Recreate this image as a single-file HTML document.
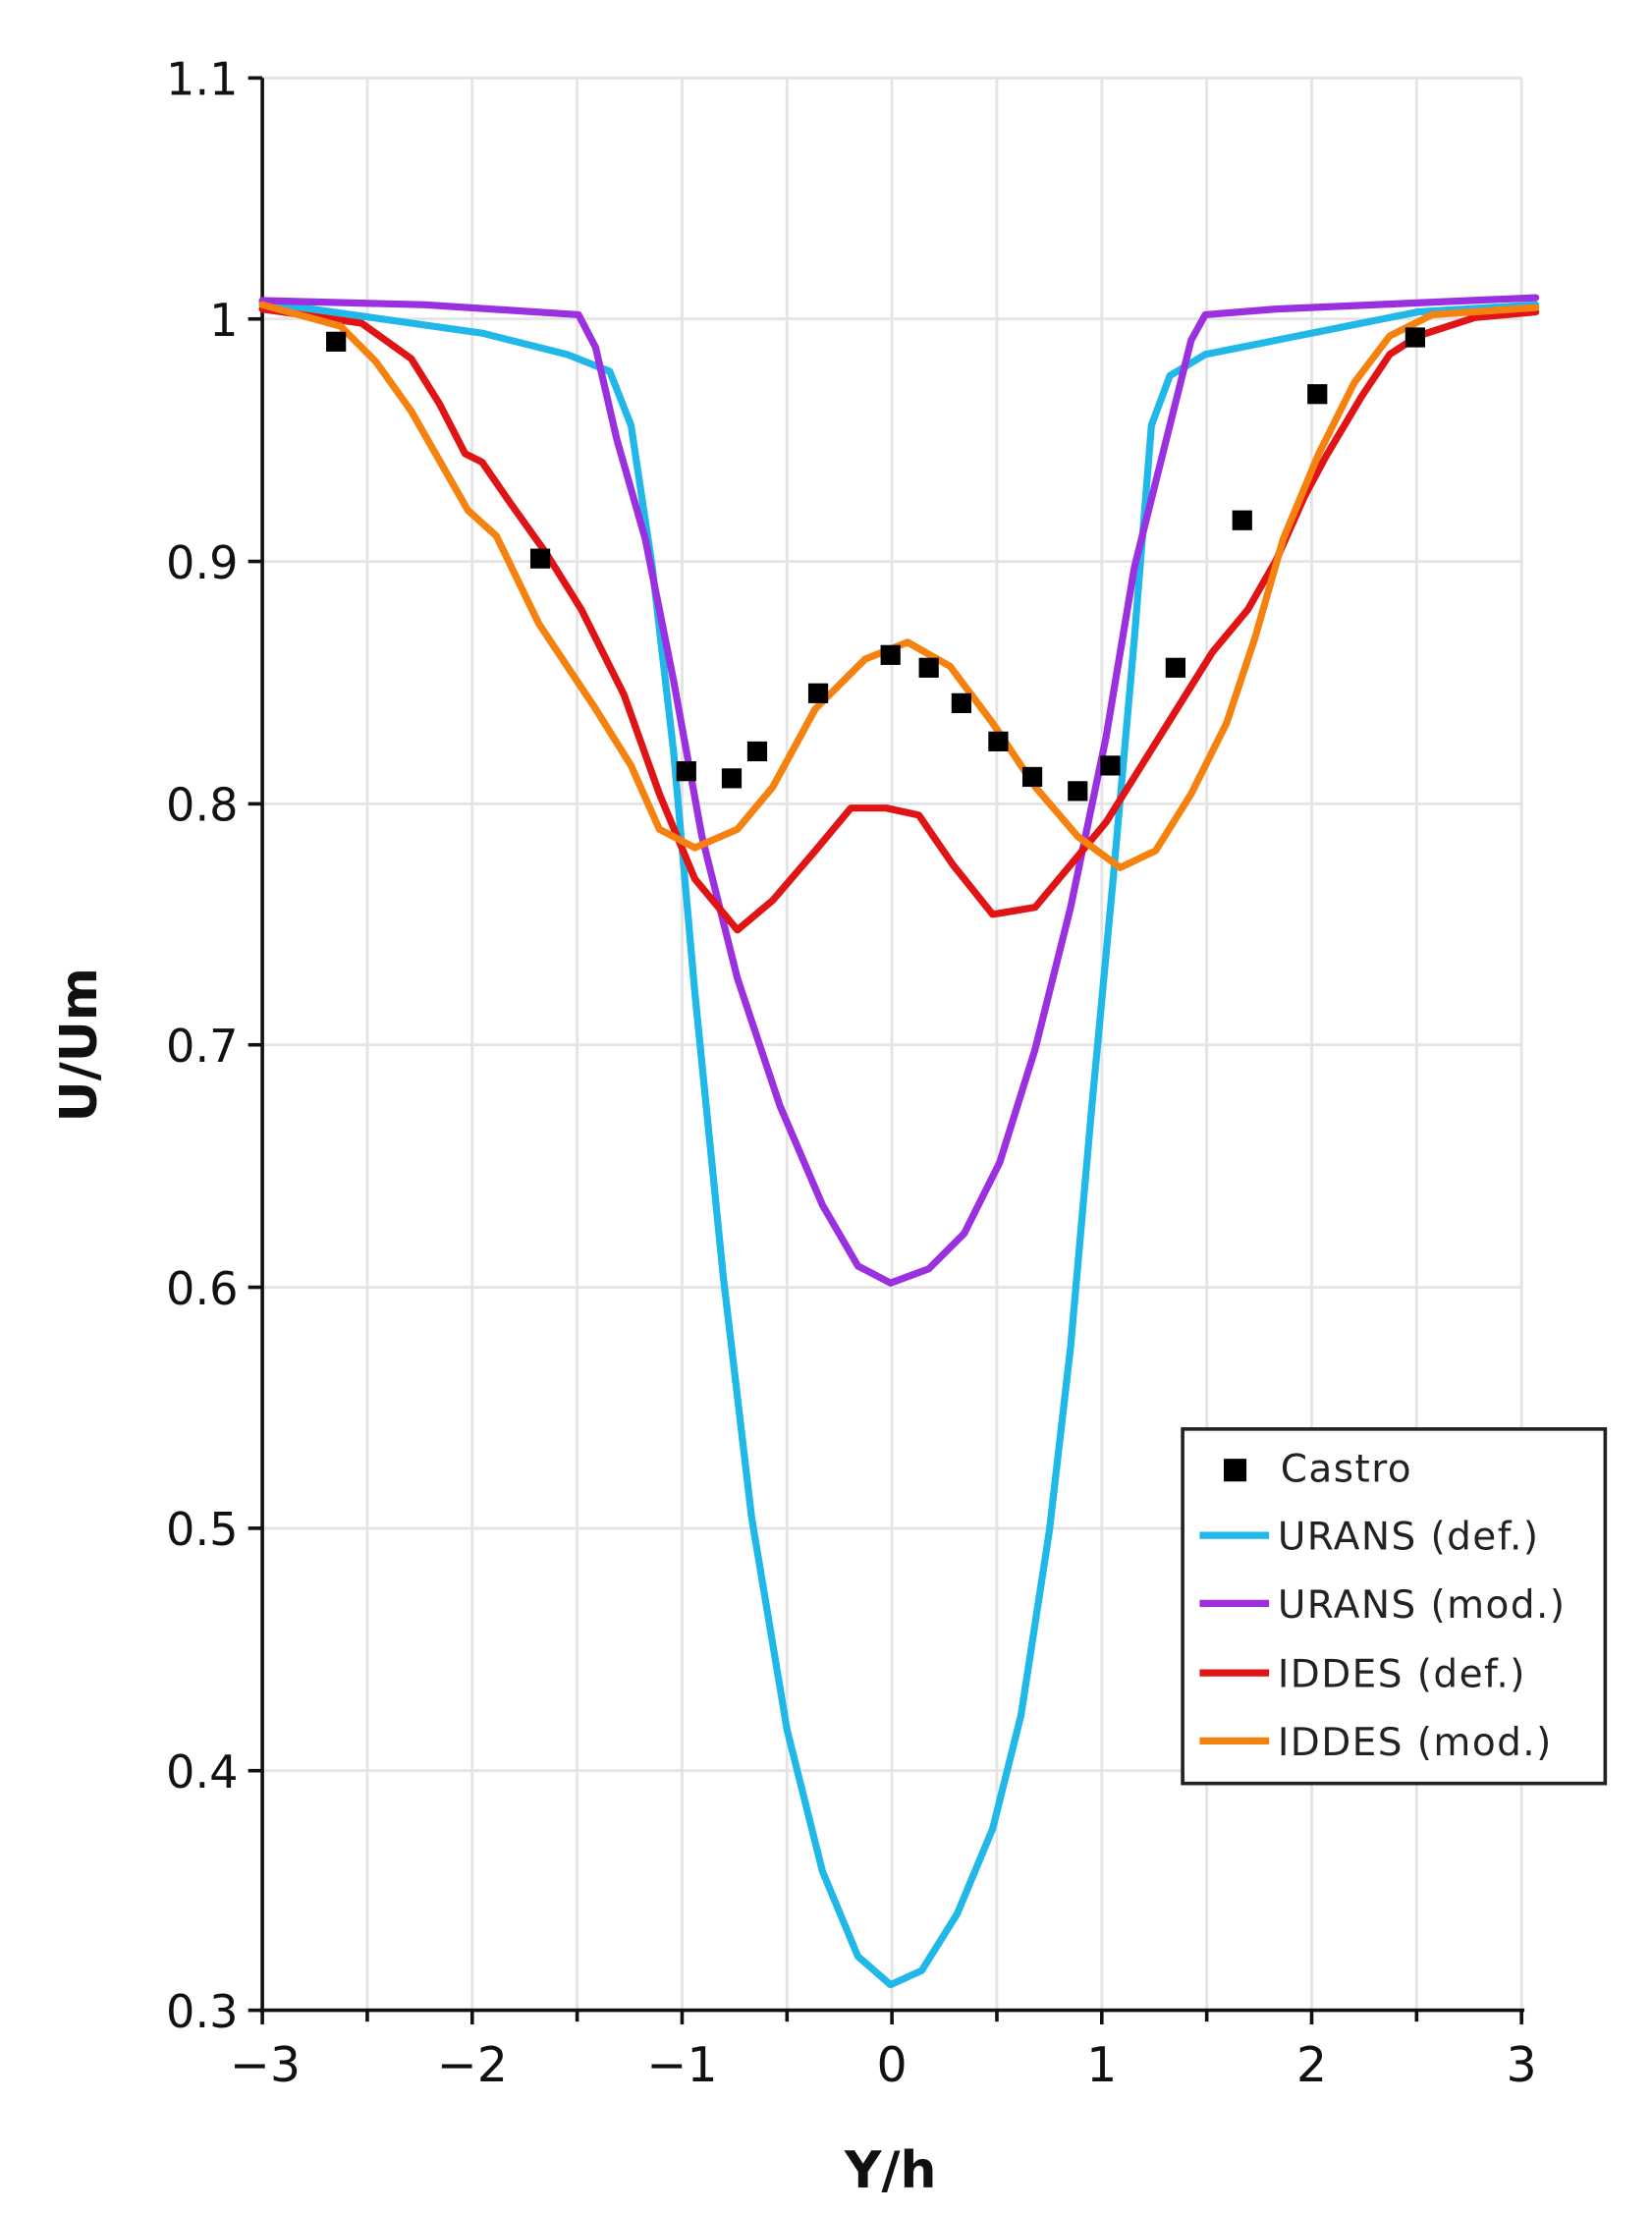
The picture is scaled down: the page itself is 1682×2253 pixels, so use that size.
<!DOCTYPE html>
<html><head><meta charset="utf-8"><style>html,body{margin:0;padding:0;background:#fff}svg{display:block}</style></head>
<body>
<svg width="1682" height="2253" viewBox="0 0 1165 1561" preserveAspectRatio="none" xmlns="http://www.w3.org/2000/svg" font-family="'DejaVu Sans','Liberation Sans',sans-serif">
<rect width="1165" height="1561" fill="#fff"/>
<g stroke="#e4e4e4" stroke-width="2">
<line x1="259" y1="55" x2="259" y2="1418"/><line x1="333" y1="55" x2="333" y2="1418"/><line x1="407" y1="55" x2="407" y2="1418"/><line x1="481" y1="55" x2="481" y2="1418"/><line x1="555" y1="55" x2="555" y2="1418"/><line x1="629" y1="55" x2="629" y2="1418"/><line x1="703" y1="55" x2="703" y2="1418"/><line x1="777" y1="55" x2="777" y2="1418"/><line x1="851" y1="55" x2="851" y2="1418"/><line x1="925" y1="55" x2="925" y2="1418"/><line x1="999" y1="55" x2="999" y2="1418"/><line x1="1073" y1="55" x2="1073" y2="1418"/>
<line x1="185" y1="55" x2="1073" y2="55"/><line x1="185" y1="225" x2="1073" y2="225"/><line x1="185" y1="396" x2="1073" y2="396"/><line x1="185" y1="567" x2="1073" y2="567"/><line x1="185" y1="737" x2="1073" y2="737"/><line x1="185" y1="908" x2="1073" y2="908"/><line x1="185" y1="1078" x2="1073" y2="1078"/><line x1="185" y1="1249" x2="1073" y2="1249"/>
</g>
<g stroke="#111" stroke-width="2.5">
<line x1="185" y1="55" x2="185" y2="1420"/><line x1="183" y1="1418" x2="1075" y2="1418"/>
<line x1="175" y1="55" x2="185" y2="55"/><line x1="175" y1="225" x2="185" y2="225"/><line x1="175" y1="396" x2="185" y2="396"/><line x1="175" y1="567" x2="185" y2="567"/><line x1="175" y1="737" x2="185" y2="737"/><line x1="175" y1="908" x2="185" y2="908"/><line x1="175" y1="1078" x2="185" y2="1078"/><line x1="175" y1="1249" x2="185" y2="1249"/><line x1="175" y1="1418" x2="185" y2="1418"/>
<line x1="185" y1="1418" x2="185" y2="1428"/><line x1="259" y1="1418" x2="259" y2="1426"/><line x1="333" y1="1418" x2="333" y2="1428"/><line x1="407" y1="1418" x2="407" y2="1426"/><line x1="481" y1="1418" x2="481" y2="1428"/><line x1="555" y1="1418" x2="555" y2="1426"/><line x1="629" y1="1418" x2="629" y2="1428"/><line x1="703" y1="1418" x2="703" y2="1426"/><line x1="777" y1="1418" x2="777" y2="1428"/><line x1="851" y1="1418" x2="851" y2="1426"/><line x1="925" y1="1418" x2="925" y2="1428"/><line x1="999" y1="1418" x2="999" y2="1426"/><line x1="1073" y1="1418" x2="1073" y2="1428"/>
</g>
<g font-size="32" fill="#111" text-anchor="end">
<text x="168" y="67">1.1</text><text x="168" y="237">1</text><text x="168" y="408">0.9</text><text x="168" y="579">0.8</text><text x="168" y="749">0.7</text><text x="168" y="920">0.6</text><text x="168" y="1090">0.5</text><text x="168" y="1261">0.4</text><text x="168" y="1430">0.3</text>
</g>
<g font-size="34" fill="#111" text-anchor="middle">
<text x="187" y="1468">−3</text><text x="333" y="1468">−2</text><text x="481" y="1468">−1</text><text x="629" y="1468">0</text><text x="777" y="1468">1</text><text x="925" y="1468">2</text><text x="1073" y="1468">3</text>
</g>
<text x="628" y="1543" font-size="36" font-weight="bold" text-anchor="middle" fill="#111">Y/h</text>
<text transform="translate(68,737) rotate(-90)" font-size="36" font-weight="bold" text-anchor="middle" fill="#111">U/Um</text>
<g fill="none" stroke-width="5" stroke-linejoin="round" stroke-linecap="round">
<polyline stroke="#1fb8e8" points="185,213 340,235 400,250 430,262 445,300 460,400 475,530 490,700 510,900 530,1070 555,1220 580,1320 605,1380 628,1400 650,1390 675,1350 700,1290 720,1210 740,1080 755,950 770,780 785,620 800,450 812,300 825,265 850,250 900,240 960,228 1000,220 1083,215"/>
<polyline stroke="#9b30e0" points="185,212 300,215 408,222 420,245 435,310 455,380 475,480 495,590 520,690 550,780 580,850 605,893 628,905 655,895 680,870 705,820 730,740 755,640 780,520 800,400 820,320 840,240 850,222 900,218 1083,210"/>
<polyline stroke="#e01414" points="185,218 255,228 290,253 310,285 328,320 340,326 360,355 385,390 410,430 440,490 465,560 490,620 520,656 545,635 575,600 600,570 625,570 648,575 672,610 700,645 730,640 755,610 780,580 805,540 830,500 855,460 880,430 900,395 920,350 935,322 960,280 980,250 1000,237 1040,224 1083,220"/>
<polyline stroke="#f5820e" points="185,215 240,230 265,255 290,290 310,325 330,360 350,378 380,440 420,500 445,540 465,585 490,598 520,585 545,555 575,500 610,465 640,453 670,470 700,510 730,555 760,590 790,612 815,600 840,560 865,510 885,450 905,380 930,320 955,270 980,237 1010,222 1083,217"/>
</g>
<g fill="#000">
<rect x="230" y="234" width="14" height="14"/><rect x="374" y="387" width="14" height="14"/><rect x="477" y="537" width="14" height="14"/><rect x="509" y="542" width="14" height="14"/><rect x="527" y="523" width="14" height="14"/><rect x="570" y="482" width="14" height="14"/><rect x="621" y="455" width="14" height="14"/><rect x="648" y="464" width="14" height="14"/><rect x="671" y="489" width="14" height="14"/><rect x="697" y="516" width="14" height="14"/><rect x="721" y="541" width="14" height="14"/><rect x="753" y="551" width="14" height="14"/><rect x="776" y="533" width="14" height="14"/><rect x="822" y="464" width="14" height="14"/><rect x="869" y="360" width="14" height="14"/><rect x="922" y="271" width="14" height="14"/><rect x="991" y="231" width="14" height="14"/>
</g>
<rect x="834" y="1008" width="298" height="250" fill="#fff" stroke="#222" stroke-width="2.5"/>
<rect x="863" y="1029" width="16" height="16" fill="#000"/>
<g stroke-width="5">
<line x1="846" y1="1083" x2="895" y2="1083" stroke="#1fb8e8"/>
<line x1="846" y1="1131" x2="895" y2="1131" stroke="#9b30e0"/>
<line x1="846" y1="1180" x2="895" y2="1180" stroke="#e01414"/>
<line x1="846" y1="1228" x2="895" y2="1228" stroke="#f5820e"/>
</g>
<g font-size="27" fill="#222" letter-spacing="1">
<text x="903" y="1045">Castro</text><text x="901" y="1093">URANS (def.)</text><text x="901" y="1141">URANS (mod.)</text><text x="901" y="1190">IDDES (def.)</text><text x="901" y="1238">IDDES (mod.)</text>
</g>
</svg>
</body></html>
